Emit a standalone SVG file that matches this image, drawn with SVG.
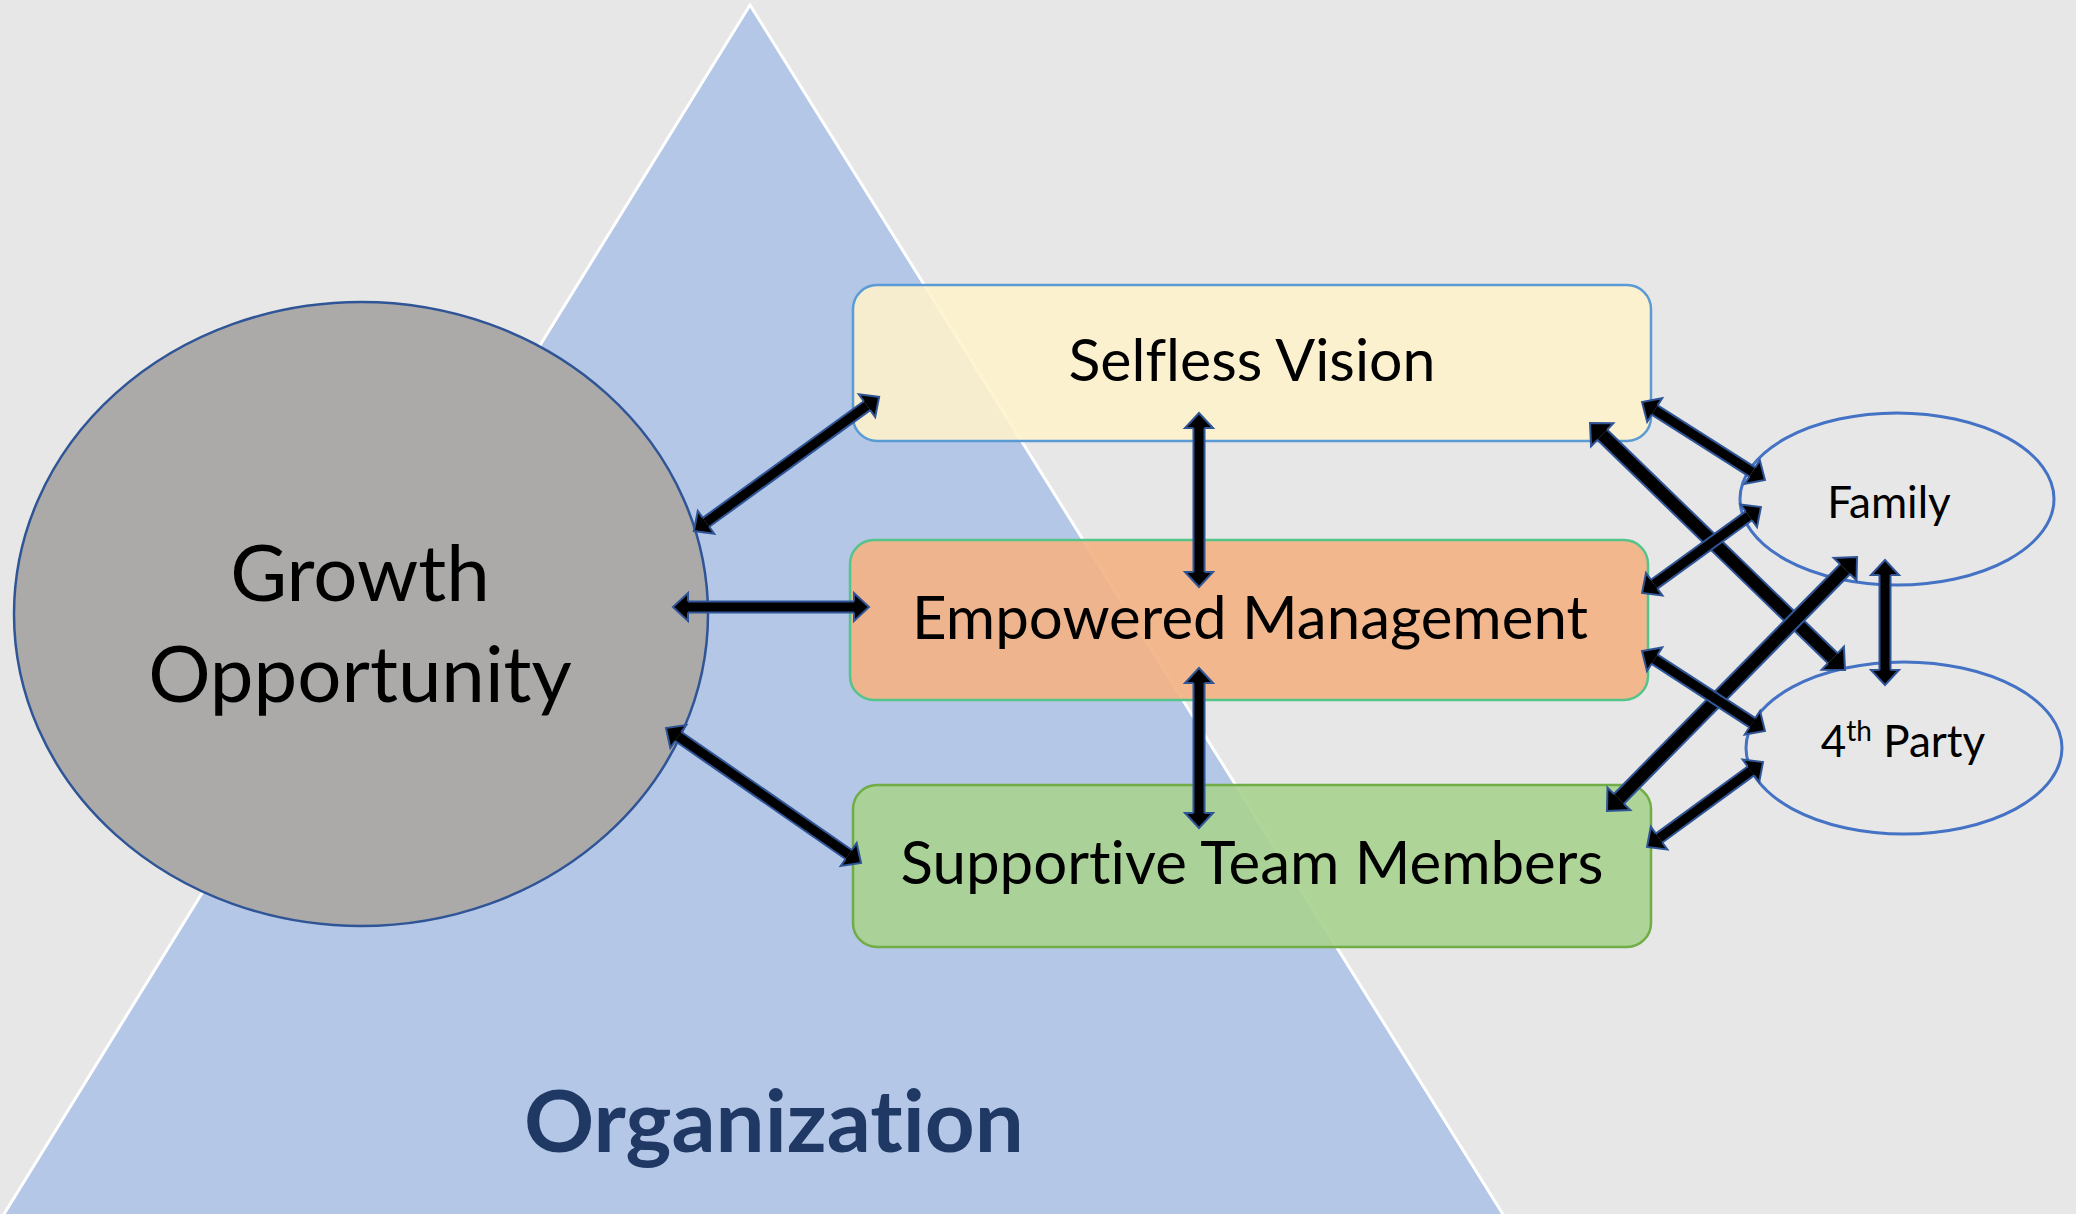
<svg xmlns="http://www.w3.org/2000/svg" width="2076" height="1214" viewBox="0 0 2076 1214">
<style>
text{font-family:Lato,"Liberation Sans",sans-serif;fill:#000;font-variant-ligatures:none}
.box{stroke-width:2.5}
.sh{stroke:#2F5597;stroke-width:13;fill:none}
.core{stroke:#000;stroke-width:9;fill:none;marker-start:url(#ah);marker-end:url(#ah)}
.sh.big{stroke-width:16}
.core.big{stroke-width:12;marker-start:url(#ah2);marker-end:url(#ah2)}
.oval{fill:none;stroke:#4472C4;stroke-width:3}
</style>
<defs>
<marker id="ah" markerUnits="userSpaceOnUse" viewBox="-3 -17 22 34" refX="0" refY="0" markerWidth="22" markerHeight="34" orient="auto-start-reverse" overflow="visible">
<path d="M0,-14 L15,0 L0,14 Z" fill="#000"/>
<path d="M0,-5.5 L0,-14 L15,0 L0,14 L0,5.5" fill="none" stroke="#2F5597" stroke-width="2"/>
</marker>
<marker id="ah2" markerUnits="userSpaceOnUse" viewBox="-3 -19 24 38" refX="0" refY="0" markerWidth="24" markerHeight="38" orient="auto-start-reverse" overflow="visible">
<path d="M0,-16 L17,0 L0,16 Z" fill="#000"/>
<path d="M0,-7 L0,-16 L17,0 L0,16 L0,7" fill="none" stroke="#2F5597" stroke-width="2"/>
</marker>
</defs>
<rect x="0" y="0" width="2076" height="1214" fill="#E7E7E7"/>
<g id="organization">
<polygon points="750,5 -12,1240 1519,1240" fill="#B4C7E7" stroke="#FFFFFF" stroke-width="3"/>
<text x="524" y="1152" font-size="87" font-weight="bold" style="fill:#203864">Organization</text>
</g>
<g id="growth">
<ellipse cx="361" cy="614" rx="347" ry="312" fill="#ABAAA9" stroke="#2F5597" stroke-width="2.5"/>
<text x="360" y="601" font-size="78" text-anchor="middle">Growth</text>
<text x="360" y="702" font-size="78" text-anchor="middle">Opportunity</text>
</g>
<g id="selfless">
<rect class="box" x="853" y="285" width="798" height="156" rx="24" fill="#FFF2CC" fill-opacity="0.88" stroke="#5B9BD5"/>
<text x="1252" y="381" font-size="59" text-anchor="middle">Selfless Vision</text>
</g>
<g id="empowered">
<rect class="box" x="850" y="540" width="798" height="160" rx="24" fill="#F4B183" fill-opacity="0.9" stroke="#55C48B"/>
<text x="1250" y="639" font-size="60" text-anchor="middle">Empowered Management</text>
</g>
<g id="supportive">
<rect class="box" x="853" y="785" width="798" height="162" rx="24" fill="#A9D18E" fill-opacity="0.9" stroke="#70AD47"/>
<text x="1252" y="884" font-size="60" text-anchor="middle">Supportive Team Members</text>
</g>
<g id="family">
<ellipse class="oval" cx="1897" cy="499" rx="157" ry="86"/>
<text x="1889" y="518" font-size="44" text-anchor="middle">Family</text>
</g>
<g id="fourth">
<ellipse class="oval" cx="1904" cy="748" rx="158" ry="86"/>
<text x="1903" y="757" font-size="44" text-anchor="middle">4<tspan font-size="28" dy="-16">th</tspan><tspan dy="16"> Party</tspan></text>
</g>
<g id="connectors">
<g><line class="sh" x1="706" y1="522.3" x2="867" y2="405.7"/><line class="core" x1="706" y1="522.3" x2="867" y2="405.7"/></g>
<g><line class="sh" x1="688" y1="607" x2="854" y2="607"/><line class="core" x1="688" y1="607" x2="854" y2="607"/></g>
<g><line class="sh" x1="678.3" y1="736.5" x2="848.7" y2="854.5"/><line class="core" x1="678.3" y1="736.5" x2="848.7" y2="854.5"/></g>
<g><line class="sh" x1="1199" y1="428" x2="1199" y2="572"/><line class="core" x1="1199" y1="428" x2="1199" y2="572"/></g>
<g><line class="sh" x1="1199" y1="683" x2="1199" y2="813"/><line class="core" x1="1199" y1="683" x2="1199" y2="813"/></g>
<g><line class="sh" x1="1654.7" y1="410" x2="1752.3" y2="472"/><line class="core" x1="1654.7" y1="410" x2="1752.3" y2="472"/></g>
<g><line class="sh big" x1="1602.2" y1="434.8" x2="1832.8" y2="658.2"/><line class="core big" x1="1602.2" y1="434.8" x2="1832.8" y2="658.2"/></g>
<g><line class="sh" x1="1748.8" y1="515.8" x2="1654.2" y2="584.2"/><line class="core" x1="1748.8" y1="515.8" x2="1654.2" y2="584.2"/></g>
<g><line class="sh big" x1="1845.1" y1="569.1" x2="1618.9" y2="798.9"/><line class="core big" x1="1845.1" y1="569.1" x2="1618.9" y2="798.9"/></g>
<g><line class="sh" x1="1885" y1="575" x2="1885" y2="670"/><line class="core" x1="1885" y1="575" x2="1885" y2="670"/></g>
<g><line class="sh" x1="1654.6" y1="659.2" x2="1752.4" y2="722.8"/><line class="core" x1="1654.6" y1="659.2" x2="1752.4" y2="722.8"/></g>
<g><line class="sh" x1="1750.9" y1="770.9" x2="1659.1" y2="838.1"/><line class="core" x1="1750.9" y1="770.9" x2="1659.1" y2="838.1"/></g>
</g>
</svg>
